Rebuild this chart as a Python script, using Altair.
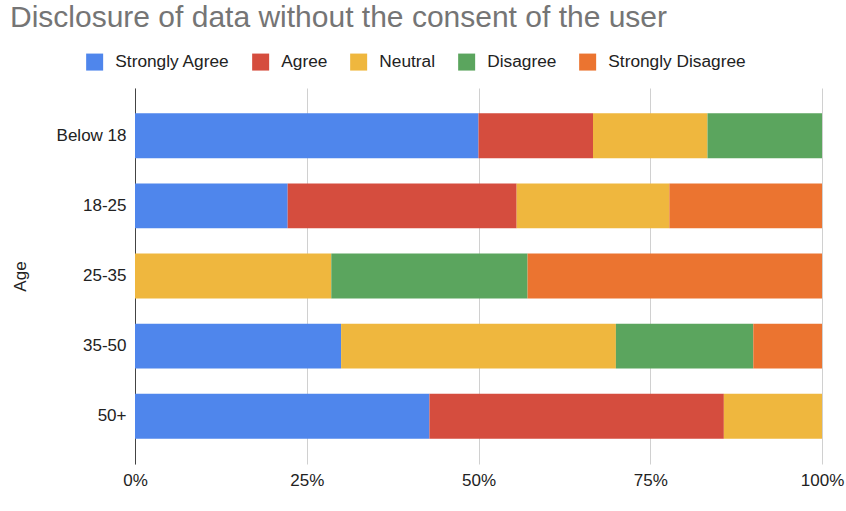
import altair as alt
import pandas as pd

ages = ["Below 18", "18-25", "25-35", "35-50", "50+"]
responses = ["Strongly Agree", "Agree", "Neutral", "Disagree", "Strongly Disagree"]
colors = ["#4F86EC", "#D54D3E", "#EFB73E", "#5BA55E", "#EB7430"]

# response counts per age group (read as shares of each bar)
strongly_agree = [3, 2, 0, 3, 3]
agree = [1, 3, 0, 0, 3]
neutral = [1, 2, 2, 4, 1]
disagree = [1, 0, 2, 2, 0]
strongly_disagree = [0, 2, 3, 1, 0]

series = [strongly_agree, agree, neutral, disagree, strongly_disagree]
rows = []
for ri, (resp, vals) in enumerate(zip(responses, series)):
    for age, v in zip(ages, vals):
        rows.append({"Age": age, "Response": resp, "Count": v, "order": ri})
df = pd.DataFrame(rows)

FONT = "Liberation Sans"

chart = alt.Chart(df).mark_bar().encode(
    y=alt.Y("Age:N", sort=ages, scale=alt.Scale(paddingInner=0.36, paddingOuter=0.36),
            axis=alt.Axis(title="Age", labelFontSize=17, labelColor="#222222", labelPadding=9,
                          ticks=False, domainColor="#444444", grid=False,
                          titleFontSize=17, titleFontWeight="normal", titleColor="#222222",
                          titlePadding=27, labelFont=FONT, titleFont=FONT)),
    x=alt.X("Count:Q", stack="normalize",
            axis=alt.Axis(title=None, format="%", values=[0, 0.25, 0.5, 0.75, 1],
                          labelFontSize=17, labelColor="#222222", labelPadding=8,
                          labelFlush=False, labelBound=False,
                          ticks=False, domain=False, gridColor="#d0d0d0",
                          labelFont=FONT)),
    color=alt.Color("Response:N", scale=alt.Scale(domain=responses, range=colors),
                    legend=alt.Legend(title=None, orient="none", direction="horizontal",
                                      legendX=-49, legendY=-35, symbolType="square",
                                      symbolSize=289, symbolStrokeWidth=0,
                                      labelFontSize=17.3, labelColor="#222222",
                                      labelFont=FONT, columnPadding=22,
                                      labelOffset=12)),
    order=alt.Order("order:Q", sort="ascending"),
).properties(
    width=687, height=376,
    title=alt.TitleParams("Disclosure of data without the consent of the user",
                          anchor="start", frame="group", dx=-125, dy=-16, fontSize=30,
                          fontWeight="normal", color="#757575", font=FONT),
    autosize=alt.AutoSizeParams(type="none"),
    padding={"left": 135, "top": 88, "right": 24, "bottom": 47},
).configure_view(stroke=None)

chart.save("out.html", embed_options={"renderer": "svg", "actions": False})
